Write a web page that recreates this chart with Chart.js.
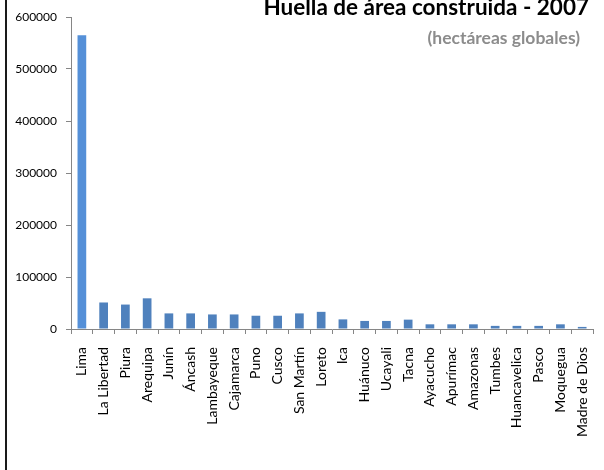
<!DOCTYPE html>
<html>
<head>
<meta charset="utf-8">
<script src="https://cdn.jsdelivr.net/npm/chart.js@4/dist/chart.umd.min.js"></script>
<style>
  html, body { margin: 0; padding: 0; background: #fff; overflow: hidden; width: 604px; height: 470px; }
  #wrap { position: absolute; left: 0; top: 0; width: 612px; height: 470px; }
  #frame { position: absolute; left: 5px; top: 0; width: 2px; height: 470px; background: #1a1a1a; }
</style>
</head>
<body>
<div id="wrap"><canvas id="c" width="612" height="470"></canvas></div>
<div id="frame"></div>
<script>
// Huella de área construida por región, 2007 (hectáreas globales)
const regiones = ['Lima', 'La Libertad', 'Piura', 'Arequipa', 'Junín', 'Áncash', 'Lambayeque',
  'Cajamarca', 'Puno', 'Cusco', 'San Martín', 'Loreto', 'Ica', 'Huánuco', 'Ucayali', 'Tacna',
  'Ayacucho', 'Apurímac', 'Amazonas', 'Tumbes', 'Huancavelica', 'Pasco', 'Moquegua', 'Madre de Dios'];
const huella = [565000, 51000, 47000, 59000, 30000, 30000, 28000,
  28000, 25500, 25500, 30000, 33000, 18500, 15500, 15500, 18000,
  9000, 9000, 9000, 6000, 6000, 6000, 9000, 4000];
const yTicks = [0, 100000, 200000, 300000, 400000, 500000, 600000];
const titulo = 'Huella de área construida - 2007';
const subtitulo = '(hectáreas globales)';

const colores = huella.map((v, i) => i === 0 ? '#5590D8' : '#4F81BD');

const tituloPlugin = {
  id: 'tituloPlugin',
  afterDraw(chart) {
    const ctx = chart.ctx;
    ctx.save();
    ctx.textAlign = 'right';
    ctx.textBaseline = 'alphabetic';
    ctx.fillStyle = '#000';
    ctx.font = 'bold 22.5px Lato';
    ctx.fillText(titulo, 589, 15);
    ctx.fillStyle = '#8C8C8C';
    ctx.font = 'bold 17.5px Lato';
    ctx.fillText(subtitulo, 580, 44);
    ctx.restore();
  }
};

new Chart(document.getElementById('c'), {
  type: 'bar',
  data: {
    labels: regiones,
    datasets: [{
      data: huella,
      backgroundColor: colores,
      barPercentage: 0.4,
      categoryPercentage: 1.0
    }]
  },
  options: {
    responsive: false,
    animation: false,
    layout: { padding: { top: 17, right: 1, left: 0, bottom: 0 } },
    plugins: { legend: { display: false }, tooltip: { enabled: false } },
    scales: {
      x: {
        offset: true,
        grid: { offset: true, drawOnChartArea: false, drawTicks: true, tickLength: 5, color: '#868686' },
        border: { color: '#868686' },
        ticks: {
          autoSkip: false,
          maxRotation: 90,
          minRotation: 90,
          padding: 13,
          color: '#000',
          font: { family: 'Lato', size: 14 }
        },
        afterFit(scale) { scale.height = 470 - 329; }
      },
      y: {
        min: 0,
        max: 600000,
        afterBuildTicks(scale) { scale.ticks = yTicks.map(v => ({ value: v })); },
        grid: { drawOnChartArea: false, drawTicks: true, tickLength: 5, color: '#868686' },
        border: { color: '#868686' },
        ticks: {
          padding: 9,
          color: '#000',
          font: { family: 'Lato', size: 12 },
          callback: v => String(v)
        },
        afterFit(scale) { scale.width = 71; }
      }
    }
  },
  plugins: [tituloPlugin]
});
</script>
</body>
</html>
